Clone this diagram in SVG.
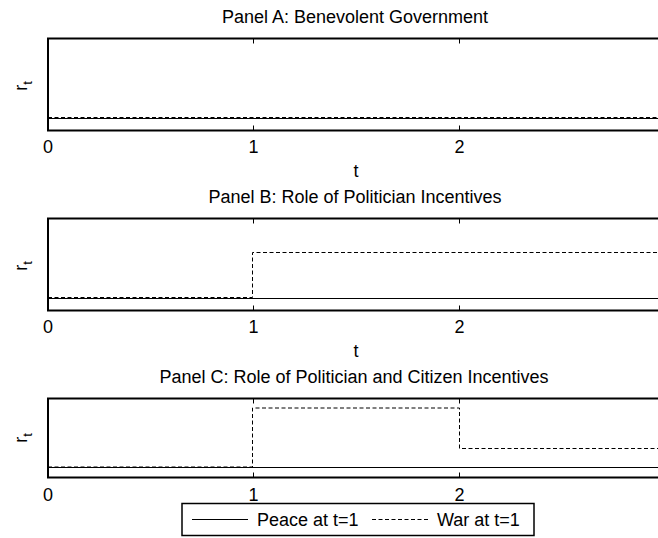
<svg xmlns="http://www.w3.org/2000/svg" width="658" height="538" viewBox="0 0 658 538">
<style>
text{font-family:"Liberation Sans",Arial,sans-serif;font-size:18px;fill:#000}
.mid{text-anchor:middle}
.frame{fill:none;stroke:#000;stroke-width:2}
.tick{stroke:#000;stroke-width:1}
.peace{fill:none;stroke:#000;stroke-width:1}
.war{fill:none;stroke:#000;stroke-width:1;stroke-dasharray:4 2.5}
</style>
<rect width="658" height="538" fill="#fff"/>

<g id="panelA">
<text class="mid" x="355" y="22.5">Panel A: Benevolent Government</text>
<path class="frame" d="M665,38.5 H48 V130.5 H665"/>
<path class="tick" d="M253.5,38.5 v5 M459.5,38.5 v5 M253.5,130.5 v-5 M459.5,130.5 v-5"/>
<text class="mid" x="48" y="152.5">0</text>
<text class="mid" x="253.5" y="152.5">1</text>
<text class="mid" x="459.5" y="152.5">2</text>
<text class="mid" x="356" y="176.5">t</text>
<text transform="translate(27,86) rotate(-90)" class="mid">r<tspan font-size="13" dy="5">t</tspan></text>
</g>

<g id="panelB">
<text class="mid" x="355" y="202.5">Panel B: Role of Politician Incentives</text>
<path class="frame" d="M665,218.5 H48 V310.5 H665"/>
<path class="tick" d="M253.5,218.5 v5 M459.5,218.5 v5 M253.5,310.5 v-5 M459.5,310.5 v-5"/>
<text class="mid" x="48" y="332.5">0</text>
<text class="mid" x="253.5" y="332.5">1</text>
<text class="mid" x="459.5" y="332.5">2</text>
<text class="mid" x="356" y="356.5">t</text>
<text transform="translate(27,266) rotate(-90)" class="mid">r<tspan font-size="13" dy="5">t</tspan></text>
</g>

<g id="panelC">
<text class="mid" x="354" y="382.5">Panel C: Role of Politician and Citizen Incentives</text>
<path class="frame" d="M665,398.5 H48 V477.5 H665"/>
<path class="tick" d="M253.5,398.5 v5 M459.5,398.5 v5 M253.5,477.5 v-5 M459.5,477.5 v-5"/>
<text class="mid" x="48" y="500.5">0</text>
<text class="mid" x="253.5" y="500.5">1</text>
<text class="mid" x="459.5" y="500.5">2</text>
<text transform="translate(27,438) rotate(-90)" class="mid">r<tspan font-size="13" dy="5">t</tspan></text>
</g>

<g id="connectors">
<path class="peace" d="M48,118.5 H665"/>
<path class="war" d="M48,117.5 H665"/>
<path class="peace" d="M48,298.5 H665"/>
<path class="war" d="M48,297.5 H252.5 V252.5 H665"/>
<path class="peace" d="M48,467.5 H665"/>
<path class="war" d="M48,467 H252.5 V408 H459.5 V448.5 H665"/>
</g>

<g id="legend">
<rect x="182" y="503.5" width="352" height="32" fill="#fff" stroke="#000" stroke-width="1.5"/>
<path class="peace" d="M192,519.5 H248"/>
<text x="257" y="526">Peace at t=1</text>
<path class="war" d="M372,519.5 H428"/>
<text x="437" y="526">War at t=1</text>
</g>
</svg>
